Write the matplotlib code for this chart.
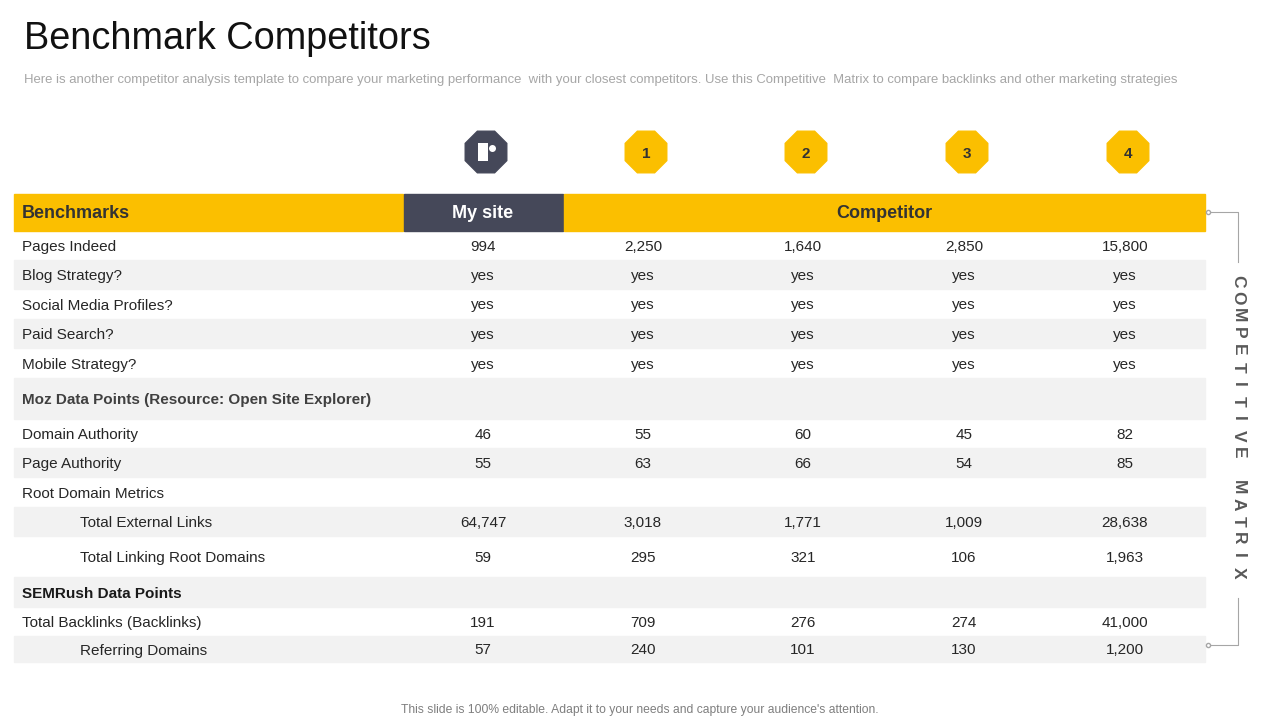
import matplotlib
matplotlib.use("Agg")
import matplotlib.pyplot as plt
from matplotlib.patches import Rectangle, RegularPolygon

row_labels = ["Pages Indeed", "Blog Strategy?", "Social Media Profiles?", "Paid Search?", "Mobile Strategy?",
              "Moz Data Points (Resource: Open Site Explorer)", "Domain Authority", "Page Authority",
              "Root Domain Metrics", "Total External Links", "Total Linking Root Domains",
              "SEMRush Data Points", "Total Backlinks (Backlinks)", "Referring Domains"]
my_site = ["994", "yes", "yes", "yes", "yes", "", "46", "55", "", "64,747", "59", "", "191", "57"]
comp1 = ["2,250", "yes", "yes", "yes", "yes", "", "55", "63", "", "3,018", "295", "", "709", "240"]
comp2 = ["1,640", "yes", "yes", "yes", "yes", "", "60", "66", "", "1,771", "321", "", "276", "101"]
comp3 = ["2,850", "yes", "yes", "yes", "yes", "", "45", "54", "", "1,009", "106", "", "274", "130"]
comp4 = ["15,800", "yes", "yes", "yes", "yes", "", "82", "85", "", "28,638", "1,963", "", "41,000", "1,200"]
icon_labels = ["", "1", "2", "3", "4"]
side_label = "COMPETITIVE MATRIX"

row_edges = [231, 260, 289, 319, 348, 378, 419, 448, 477, 507, 536, 577, 607, 636, 662]
indented = {9, 10, 13}
bold_rows = {5: "#404040", 11: "#1a1a1a"}
col_x = [483, 643, 803, 964, 1125]

YEL = "#FBBF00"; DARK = "#454859"; GRAY = "#F2F2F2"; TXT = "#262626"
F = "Liberation Sans"
fig = plt.figure(figsize=(12.8, 7.2), dpi=100)
ax = fig.add_axes([0, 0, 1, 1]); ax.set_xlim(0, 1280); ax.set_ylim(720, 0); ax.axis("off")

ax.text(24, 35, "Benchmark Competitors", fontsize=27.3, color="#111", va="center_baseline", family=F)
ax.text(24, 78, "Here is another competitor analysis template to compare your marketing performance  with your closest competitors. Use this Competitive  Matrix to compare backlinks and other marketing strategies",
        fontsize=9.45, color="#A6A6A6", va="center_baseline", family=F)
ax.text(640, 709, "This slide is 100% editable. Adapt it to your needs and capture your audience's attention.",
        fontsize=8.7, color="#7F7F7F", ha="center", va="center_baseline", family=F)

for i, (x, lab) in enumerate(zip(col_x, icon_labels)):
    c = DARK if i == 0 else YEL
    ax.add_patch(RegularPolygon((x + 3, 152), 8, radius=22.5, orientation=0.3927, color=c))
    if lab:
        ax.text(x + 3, 153, lab, ha="center", va="center_baseline", fontsize=11, weight="bold", color="#333", family=F)
    else:
        ax.add_patch(Rectangle((x - 5, 143), 10, 18, fc="white", ec="none"))
        ax.plot([x + 9], [148], marker="o", ms=4, color="white")

ax.add_patch(Rectangle((14, 194), 389, 37, color=YEL))
ax.add_patch(Rectangle((404, 194), 159, 37, color=DARK))
ax.add_patch(Rectangle((564, 194), 641, 37, color=YEL))
ax.text(22, 212, "Benchmarks", fontsize=13, weight="bold", color="#333", va="center_baseline", family=F)
ax.text(483, 212, "My site", fontsize=13, weight="bold", color="white", ha="center", va="center_baseline", family=F)
ax.text(884, 212, "Competitor", fontsize=13, weight="bold", color="#333", ha="center", va="center_baseline", family=F)

cols = [my_site, comp1, comp2, comp3, comp4]
for r, lab in enumerate(row_labels):
    t, b = row_edges[r], row_edges[r + 1]
    if r % 2 == 1:
        ax.add_patch(Rectangle((14, t), 1191, b - t, color=GRAY))
    yc = (t + b) / 2
    x0 = 80 if r in indented else 22
    kw = dict(weight="bold", color=bold_rows[r]) if r in bold_rows else dict(color=TXT)
    ax.text(x0, yc, lab, fontsize=11, va="center_baseline", family=F, **kw)
    for x, col in zip(col_x, cols):
        ax.text(x, yc, col[r], fontsize=11, ha="center", va="center_baseline", color=TXT, family=F)

lc = "#A6A6A6"
ax.plot([1208, 1238, 1238], [212, 212, 262], color=lc, lw=0.8)
ax.plot([1238, 1238, 1208], [598, 645, 645], color=lc, lw=0.8)
ax.plot([1208], [212], marker="o", ms=3, mfc="white", mec=lc)
ax.plot([1208], [645], marker="o", ms=3, mfc="white", mec=lc)
n = len(side_label)
y0, y1 = 281, 573
for k, ch in enumerate(side_label):
    ax.text(1238, y0 + (y1 - y0) * k / (n - 1), ch, rotation=270, fontsize=12.5, weight="bold",
            color="#595959", ha="center", va="center", family=F)
fig.savefig("out.png", dpi=100)
